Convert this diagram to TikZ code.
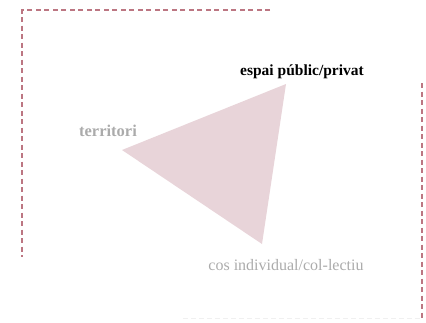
\documentclass[tikz,border=0pt]{standalone}
\usepackage{fontspec}
\setmainfont{Liberation Serif}
\definecolor{dashred}{HTML}{BC7682}
\definecolor{tripink}{HTML}{E8D4D9}
\definecolor{labgrey}{HTML}{ABABAB}
\tikzset{
  frame/.style={draw=dashred, line width=1.1pt, dash pattern=on 5pt off 3.5pt},
  faint/.style={draw=gray!12, line width=1pt, dash pattern=on 5pt off 3pt},
  greylab/.style={text=labgrey, inner sep=0pt},
  blacklab/.style={text=black, font=\fontsize{15.5}{18}\selectfont\bfseries, inner sep=0pt}
}
\begin{document}
\begin{tikzpicture}[x=1pt,y=-1pt]
\useasboundingbox (0,0) rectangle (426,322);
% frame corners
\coordinate (tl) at (22,10);
\coordinate (tr) at (270,10);
\coordinate (lb) at (22,257);
\coordinate (rt) at (422,83);
\coordinate (rb) at (422,318);
\coordinate (bl) at (183,318);
\draw[frame] (tr) -- (tl) -- (lb);
\draw[frame] (rt) -- (rb);
\draw[faint] (bl) -- (rb);
% triangle
\coordinate (ptop) at (286,84);
\coordinate (pleft) at (122,150);
\coordinate (pbot) at (262,244);
\fill[tripink] (ptop) -- (pleft) -- (pbot) -- cycle;
% labels
\node[blacklab] (esp) at (302,72) {espai públic/privat};
\node[greylab, font=\fontsize{16.5}{18}\selectfont\bfseries] (ter) at (108,131) {territori};
\node[greylab, font=\fontsize{16}{18}\selectfont] (cos) at (286,265) {cos individual/col-lectiu};
\end{tikzpicture}
\end{document}
